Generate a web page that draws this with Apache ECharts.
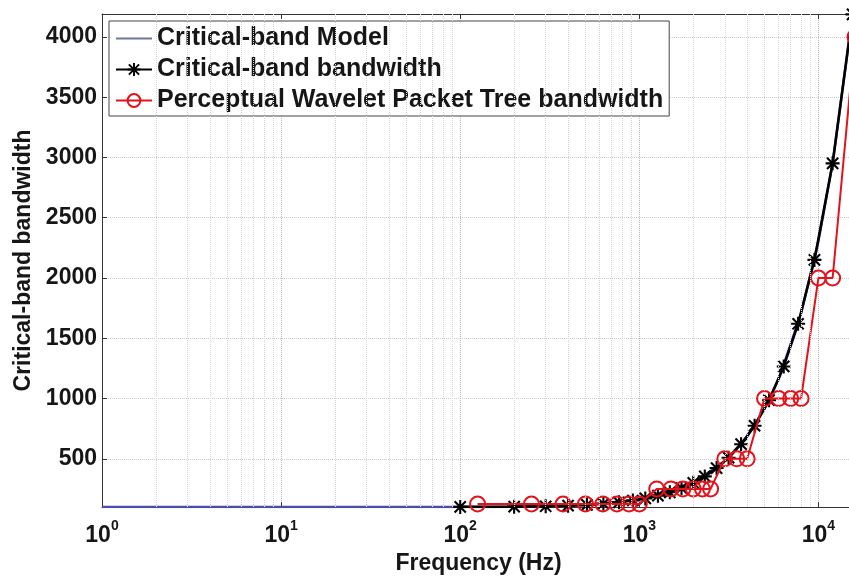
<!DOCTYPE html>
<html>
<head>
<meta charset="utf-8">
<script src="https://cdn.jsdelivr.net/npm/echarts@6/dist/echarts.min.js"></script>
<style>
html, body { margin: 0; padding: 0; background: #fff; }
#chart { width: 849px; height: 576px; }
</style>
</head>
<body>
<div id="chart"></div>
<script>
// critical-band model (continuous curve, mostly hidden under the black one)
var modelFreq = [1, 5, 10, 20, 50, 100, 200, 500, 1000, 2000, 3000, 4000, 5000, 6000, 8000, 10000, 12000, 15500];
var modelBw = [100, 100, 100, 100, 100, 101, 103, 117, 162, 301, 479, 685, 914, 1162, 1705, 2306, 2951, 4187];

// critical-band bandwidth (stars)
var bandFreq = [100, 200, 300, 400, 510, 630, 770, 920, 1080, 1270, 1480, 1720, 2000, 2320, 2700, 3150, 3700, 4400, 5300, 6400, 7700, 9500, 12000, 15500];
var bandBw = [101, 103, 106, 111, 118, 127, 139, 154, 171, 194, 222, 257, 301, 354, 423, 509, 621, 774, 986, 1266, 1620, 2150, 2951, 4187];

// perceptual wavelet packet tree bandwidth (circles)
var pwptFreq = [125, 250, 375, 500, 625, 750, 875, 1000, 1250, 1500, 1750, 2000, 2250, 2500, 3000, 3500, 4000, 5000, 6000, 7000, 8000, 10000, 12000, 16000];
var pwptBw = [125, 125, 125, 125, 125, 125, 125, 125, 250, 250, 250, 250, 250, 250, 500, 500, 500, 1000, 1000, 1000, 1000, 2000, 2000, 4000];

var seriesNames = ['Critical-band Model', 'Critical-band bandwidth', 'Perceptual Wavelet Packet Tree bandwidth'];
var yTicks = [500, 1000, 1500, 2000, 2500, 3000, 3500, 4000];

var FONT = "'Liberation Sans', Arial, Helvetica, sans-serif";
var star = 'path://M8.5,0 L11.5,0 L11.5,20 L8.5,20 Z M0,8.5 L20,8.5 L20,11.5 L0,11.5 Z ' +
  'M0.94,3.06 L3.06,0.94 L19.06,16.94 L16.94,19.06 Z M16.94,0.94 L19.06,3.06 L3.06,19.06 L0.94,16.94 Z';

function pairs(xs, ys) {
  return xs.map(function (x, i) { return [x, ys[i]]; });
}

// log minor grid lines 2..9 of every decade
var minorLines = [];
[1, 10, 100, 1000, 10000].forEach(function (d) {
  for (var m = 2; m <= 9; m++) {
    if (d * m < 16000) minorLines.push({ xAxis: d * m });
  }
});

var chart = echarts.init(document.getElementById('chart'));

var option = {
  animation: false,
  backgroundColor: '#fff',
  grid: { left: 102, width: 753, top: 14, bottom: 69, outerBoundsMode: 'none', containLabel: false },
  legend: {
    orient: 'vertical',
    left: 109,
    top: 21,
    padding: [5, 6, 3, 6],
    itemGap: 6,
    itemWidth: 36,
    itemHeight: 16,
    backgroundColor: '#fff',
    borderColor: '#444',
    borderWidth: 1,
    textStyle: { fontFamily: FONT, fontSize: 25, fontWeight: 'bold', color: '#161616', lineHeight: 24 },
    data: [
      { name: seriesNames[0], itemStyle: { color: 'rgba(0,0,0,0)', borderWidth: 0 }, lineStyle: { color: '#6c7896', width: 2 } },
      { name: seriesNames[1] },
      { name: seriesNames[2] }
    ]
  },
  xAxis: [{
    type: 'log',
    logBase: 10,
    min: 1,
    max: 16000,
    name: 'Frequency (Hz)',
    nameLocation: 'middle',
    nameGap: 41,
    nameTextStyle: { fontFamily: FONT, fontSize: 23, fontWeight: 'bold', color: '#161616' },
    axisLine: { show: true, lineStyle: { color: '#333', width: 1 } },
    axisTick: { show: true, inside: true, length: 5, lineStyle: { color: '#333' } },
    splitLine: { show: true, lineStyle: { color: '#b8b8b8', type: 'dotted', width: 1 } },
    axisLabel: {
      margin: 12,
      formatter: function (v) {
        var e = Math.log10(v), r = Math.round(e);
        if (Math.abs(e - r) > 1e-6) return '';
        return '{b|10}{s|' + r + '}';
      },
      rich: {
        b: { fontFamily: FONT, fontSize: 23, fontWeight: 'bold', color: '#161616', lineHeight: 28, verticalAlign: 'bottom' },
        s: { fontFamily: FONT, fontSize: 14, fontWeight: 'bold', color: '#161616', lineHeight: 14, verticalAlign: 'top' }
      }
    }
  }, {
    type: 'log',
    logBase: 10,
    min: 1,
    max: 16000,
    position: 'top',
    axisLine: { show: true, lineStyle: { color: '#333', width: 1 } },
    axisTick: { show: true, inside: true, length: 5, lineStyle: { color: '#333' } },
    axisLabel: { show: false },
    splitLine: { show: false }
  }],
  yAxis: {
    type: 'value',
    min: 100,
    max: 4190,
    splitNumber: 8,
    name: 'Critical-band bandwidth',
    nameLocation: 'middle',
    nameGap: 66,
    nameTextStyle: { fontFamily: FONT, fontSize: 23, fontWeight: 'bold', color: '#161616' },
    axisLine: { show: true, lineStyle: { color: '#333', width: 1 } },
    axisTick: { show: true, inside: true, length: 5, lineStyle: { color: '#333' } },
    splitLine: { show: true, lineStyle: { color: '#cccccc', type: 'dotted', width: 1 } },
    axisLabel: {
      margin: 5,
      fontFamily: FONT, fontSize: 23, fontWeight: 'bold', color: '#161616',
      formatter: function (v) { return yTicks.indexOf(v) >= 0 ? String(v) : ''; }
    }
  },
  series: [{
    name: seriesNames[0],
    type: 'line',
    z: 2,
    symbol: 'none',
    data: pairs(modelFreq, modelBw),
    lineStyle: { color: '#4b4bb0', width: 2.5 },
    itemStyle: { color: '#4b4bb0' },
    emphasis: { disabled: true },
    markLine: {
      silent: true,
      symbol: 'none',
      label: { show: false },
      emphasis: { disabled: true },
      lineStyle: { color: '#d6d6d6', type: 'dotted', width: 1 },
      data: minorLines
    }
  }, {
    name: seriesNames[1],
    type: 'line',
    z: 3,
    symbol: star,
    symbolSize: 14,
    data: pairs(bandFreq, bandBw),
    lineStyle: { color: '#000', width: 2.6 },
    itemStyle: { color: '#000' },
    emphasis: { disabled: true }
  }, {
    name: seriesNames[2],
    type: 'line',
    z: 4,
    symbol: 'circle',
    symbolSize: 15,
    data: pairs(pwptFreq, pwptBw),
    lineStyle: { color: '#e3121b', width: 2 },
    itemStyle: { color: 'rgba(255,255,255,0)', borderColor: '#e3121b', borderWidth: 2 },
    emphasis: { disabled: true }
  }]
};

chart.setOption(option);
</script>
</body>
</html>
